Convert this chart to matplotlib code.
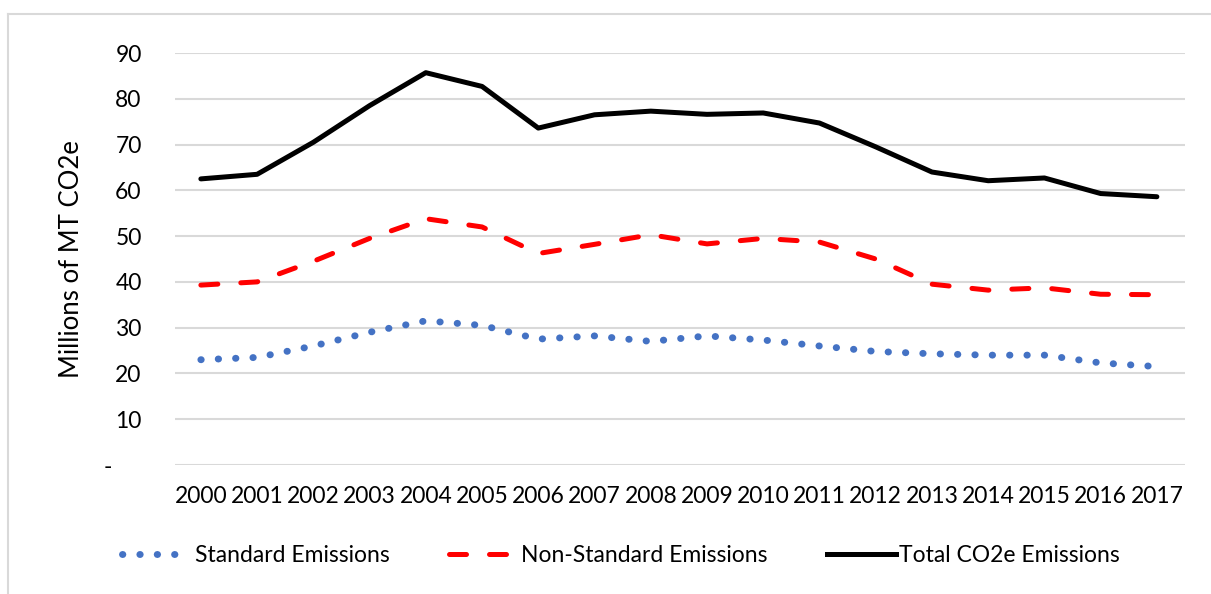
import matplotlib
matplotlib.use("Agg")
import matplotlib.pyplot as plt
from matplotlib.lines import Line2D

years = [str(y) for y in range(2000, 2018)]
standard = [23.0, 23.5, 26.0, 29.0, 31.5, 30.5, 27.5, 28.2, 27.0, 28.2,
            27.3, 26.0, 24.8, 24.3, 24.0, 24.0, 22.3, 21.5]
non_standard = [39.3, 40.0, 44.5, 49.5, 53.8, 52.0, 46.2, 48.2, 50.3, 48.3,
                49.5, 48.7, 45.0, 39.5, 38.2, 38.7, 37.3, 37.2]
total = [62.5, 63.5, 70.5, 78.5, 85.7, 82.7, 73.6, 76.5, 77.3, 76.6,
         76.9, 74.7, 69.5, 64.0, 62.1, 62.7, 59.3, 58.6]
yticks = [0, 10, 20, 30, 40, 50, 60, 70, 80, 90]
ytick_labels = ["-     "] + [str(v) for v in yticks[1:]]

names = ["Standard Emissions", "Non-Standard Emissions", "Total CO2e Emissions"]

blue = "#4472c4"
red = "#ff0000"
dot_style = (0, (0.05, 2.45))
dash_style = (0, (3.4, 4.6))

fig = plt.figure(figsize=(12.11, 5.94), dpi=100)
ax = fig.add_axes([175 / 1211, 1 - 465 / 594, (1185 - 175) / 1211, (465 - 53) / 594])

x = list(range(len(years)))
ax.plot(x, standard, color=blue, lw=5, linestyle=dot_style,
        dash_capstyle="round", zorder=3)
ax.plot(x, non_standard, color=red, lw=3.6, linestyle=dash_style,
        dash_capstyle="round", zorder=3)
ax.plot(x, total, color="black", lw=3.6, solid_capstyle="round",
        solid_joinstyle="round", zorder=3)

ax.set_xlim(-0.46, 17.5)
ax.set_ylim(0, 90)
ax.set_yticks(yticks)
ax.set_yticklabels(ytick_labels)
ax.set_xticks(x)
ax.set_xticklabels(years)
ax.grid(axis="y", color="#d9d9d9", lw=1.5)
ax.set_axisbelow(True)
for s in ax.spines.values():
    s.set_visible(False)
ax.tick_params(length=0, labelsize=16.5, pad=15)
ax.tick_params(axis="y", pad=24)
for lab in ax.get_xticklabels() + ax.get_yticklabels():
    lab.set_family("Lato")
ax.set_ylabel("Millions of MT CO2e", fontsize=18.5, family="Lato", labelpad=14)

handles = [
    Line2D([], [], color=blue, lw=5, linestyle=dot_style, dash_capstyle="round"),
    Line2D([], [], color=red, lw=3.6, linestyle=dash_style, dash_capstyle="round"),
    Line2D([], [], color="black", lw=3.6),
]
fig.legend(handles, names, loc="center", bbox_to_anchor=(0.513, 1 - 556 / 594),
           ncol=3, frameon=False, handlelength=3.0, handletextpad=0.15,
           columnspacing=2.6, prop={"family": "Lato", "size": 16.5})

# partial frame of the original image
fig.add_artist(Line2D([8 / 1211, 1], [1 - 14 / 594, 1 - 14 / 594], color="#d9d9d9", lw=1.5))
fig.add_artist(Line2D([8 / 1211, 8 / 1211], [0, 1 - 14 / 594], color="#d9d9d9", lw=1.5))

fig.savefig("out.png", dpi=100)
